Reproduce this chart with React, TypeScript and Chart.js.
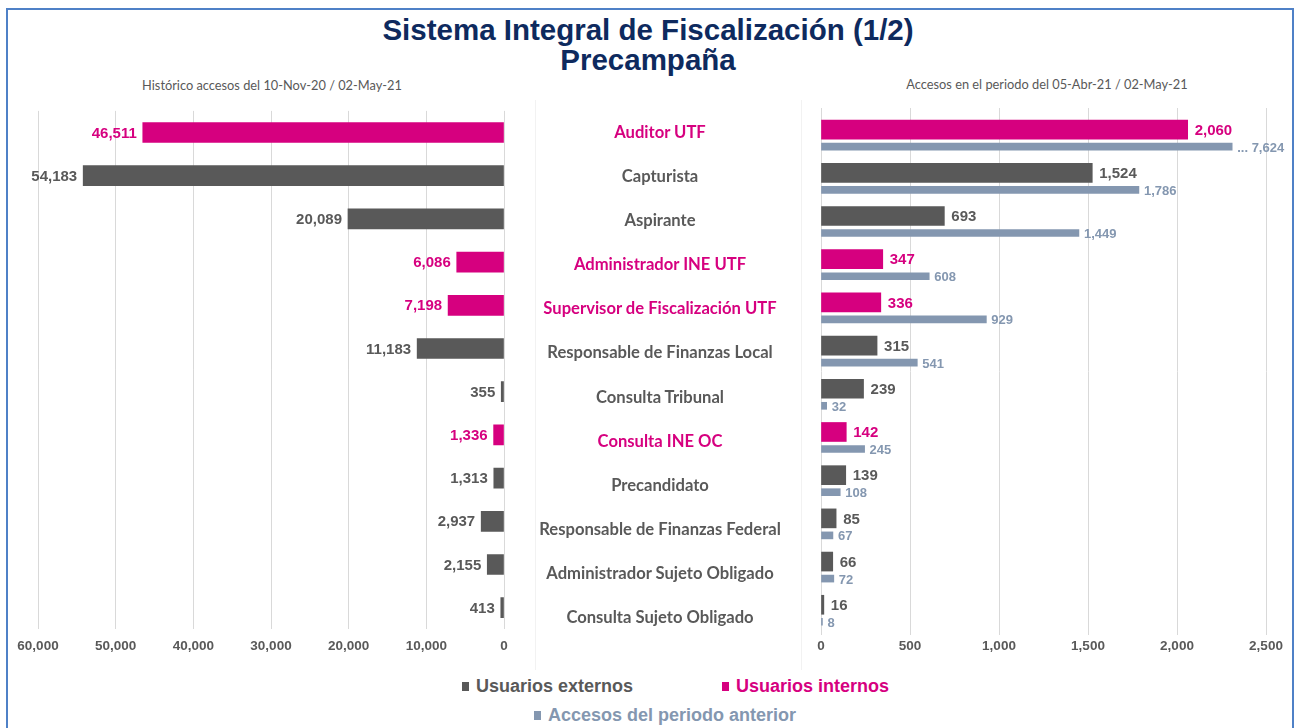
import React, { useEffect, useRef } from "react";
import { Chart, registerables } from "chart.js";
Chart.register(...registerables);

// ---------- data ----------
const categories = [
  "Auditor UTF",
  "Capturista",
  "Aspirante",
  "Administrador INE UTF",
  "Supervisor de Fiscalización UTF",
  "Responsable de Finanzas Local",
  "Consulta Tribunal",
  "Consulta INE OC",
  "Precandidato",
  "Responsable de Finanzas Federal",
  "Administrador Sujeto Obligado",
  "Consulta Sujeto Obligado",
];
const interno = [true, false, false, true, true, false, false, true, false, false, false, false];
const historico = [46511, 54183, 20089, 6086, 7198, 11183, 355, 1336, 1313, 2937, 2155, 413];
const periodo = [2060, 1524, 693, 347, 336, 315, 239, 142, 139, 85, 66, 16];
const anterior = [7624, 1786, 1449, 608, 929, 541, 32, 245, 108, 67, 72, 8];
const histMax = 60000;
const histStep = 10000;
const periodoMax = 2500;
const periodoStep = 500;
const anteriorCap = 2310; // broken bar: drawn cut at this value

const title1 = "Sistema Integral de Fiscalización (1/2)";
const title2 = "Precampaña";
const subLeft = "Histórico accesos del 10-Nov-20 / 02-May-21";
const subRight = "Accesos en el periodo del 05-Abr-21 / 02-May-21";
const legendItems = ["Usuarios externos", "Usuarios internos", "Accesos del periodo anterior"];

// ---------- styles ----------
const PINK = "#D6007F";
const GRAY = "#595959";
const BLUE = "#8497B0";
const GRID = "#D9D9D9";
const NAVY = "#0E2A5E";
const ARIAL = '"Liberation Sans", Arial, sans-serif';
const LATO = 'Lato, "Open Sans", sans-serif';

const fmt = (v: number) => Number(v).toLocaleString("en-US");

const tickFont = { family: ARIAL, weight: "bold" as const, size: 13.5 };

const leftLabels = {
  id: "leftLabels",
  afterDatasetsDraw(chart: any) {
    const ctx = chart.ctx;
    const meta = chart.getDatasetMeta(0);
    ctx.save();
    ctx.font = `bold 15px ${ARIAL}`;
    ctx.textAlign = "right";
    ctx.textBaseline = "middle";
    meta.data.forEach((el: any, i: number) => {
      const p = el.getProps(["x", "y", "base"], true);
      ctx.fillStyle = interno[i] ? PINK : GRAY;
      ctx.fillText(fmt(historico[i]), Math.min(p.x, p.base) - 6, p.y + 1);
    });
    ctx.restore();
  },
};

const rightLabels = {
  id: "rightLabels",
  afterDatasetsDraw(chart: any) {
    const ctx = chart.ctx;
    ctx.save();
    ctx.textAlign = "left";
    ctx.textBaseline = "middle";
    const m0 = chart.getDatasetMeta(0);
    ctx.font = `bold 15px ${ARIAL}`;
    m0.data.forEach((el: any, i: number) => {
      const p = el.getProps(["x", "y", "base"], true);
      ctx.fillStyle = interno[i] ? PINK : GRAY;
      ctx.fillText(fmt(periodo[i]), Math.max(p.x, p.base) + 7, p.y + 1);
    });
    const m1 = chart.getDatasetMeta(1);
    ctx.font = `bold 13px ${ARIAL}`;
    ctx.fillStyle = BLUE;
    m1.data.forEach((el: any, i: number) => {
      const p = el.getProps(["x", "y", "base"], true);
      const txt = (anterior[i] > anteriorCap ? "... " : "") + fmt(anterior[i]);
      ctx.fillText(txt, Math.max(p.x, p.base) + 5, p.y + 1.5);
    });
    ctx.restore();
  },
};

function LeftChart() {
  const ref = useRef<HTMLCanvasElement>(null);
  useEffect(() => {
    const chart = new Chart(ref.current!, {
      type: "bar",
      data: {
        labels: categories,
        datasets: [
          {
            data: historico,
            backgroundColor: interno.map((v) => (v ? PINK : GRAY)),
            barThickness: 20,
          },
        ],
      },
      options: {
        indexAxis: "y",
        animation: false,
        responsive: false,
        maintainAspectRatio: false,
        layout: { padding: { left: 38, right: 21, top: 10.9, bottom: 0 } },
        plugins: { legend: { display: false }, tooltip: { enabled: false } },
        scales: {
          x: {
            reverse: true,
            min: 0,
            max: histMax,
            ticks: {
              stepSize: histStep,
              callback: (v: any) => fmt(v),
              color: GRAY,
              font: tickFont,
              padding: 9,
              maxRotation: 0,
            },
            grid: { color: GRID, drawTicks: false },
            border: { display: false },
            afterFit: (s: any) => {
              s.height = 30.7;
            },
          },
          y: { display: false },
        },
      } as any,
      plugins: [leftLabels],
    });
    return () => chart.destroy();
  }, []);
  return (
    <canvas
      ref={ref}
      width={525}
      height={560}
      style={{ position: "absolute", left: 0, top: 100, width: 525, height: 560 }}
    />
  );
}

function RightChart() {
  const ref = useRef<HTMLCanvasElement>(null);
  useEffect(() => {
    const prevOffset = 0.394;
    const chart = new Chart(ref.current!, {
      type: "bar",
      data: {
        datasets: [
          {
            data: periodo.map((v, i) => ({ x: v, y: i })),
            backgroundColor: interno.map((v) => (v ? PINK : GRAY)),
            barThickness: 19,
            grouped: false,
          },
          {
            data: anterior.map((v, i) => ({ x: Math.min(v, anteriorCap), y: i + prevOffset })),
            backgroundColor: BLUE,
            barThickness: 7,
            grouped: false,
          },
        ],
      },
      options: {
        indexAxis: "y",
        animation: false,
        responsive: false,
        maintainAspectRatio: false,
        layout: { padding: { left: 21, right: 30, top: 8, bottom: 0 } },
        plugins: { legend: { display: false }, tooltip: { enabled: false } },
        scales: {
          x: {
            min: 0,
            max: periodoMax,
            ticks: {
              stepSize: periodoStep,
              callback: (v: any) => fmt(v),
              color: GRAY,
              font: tickFont,
              padding: 3,
              maxRotation: 0,
            },
            grid: { color: GRID, drawTicks: false },
            border: { display: false },
            afterFit: (s: any) => {
              s.height = 25;
            },
          },
          y: {
            type: "linear",
            reverse: true,
            offset: false,
            grace: 0,
            min: -0.5,
            max: 11.7,
            display: false,
          },
        },
      } as any,
      plugins: [rightLabels],
    });
    return () => chart.destroy();
  }, []);
  return (
    <canvas
      ref={ref}
      width={496}
      height={560}
      style={{ position: "absolute", left: 800, top: 100, width: 496, height: 560 }}
    />
  );
}

const ROW_H = 44.1;
const ROW0 = 132;

function Marker({ color }: { color: string }) {
  return (
    <span
      style={{
        display: "inline-block",
        width: 7,
        height: 9,
        background: color,
        marginRight: 7,
        verticalAlign: "1px",
      }}
    />
  );
}

export default function App() {
  const legendColors = [GRAY, PINK, BLUE];
  const legendPos = [
    { left: 462, top: 675 },
    { left: 722, top: 675 },
    { left: 534, top: 704 },
  ];
  return (
    <div
      style={{
        position: "absolute",
        left: 0,
        top: 0,
        width: 1296,
        height: 728,
        background: "#fff",
        overflow: "hidden",
      }}
    >
      <div
        style={{
          position: "absolute",
          left: 6,
          top: 8,
          width: 1288,
          height: 760,
          border: "2px solid #4F81C7",
          boxSizing: "border-box",
        }}
      />
      <div
        style={{
          position: "absolute",
          left: 535,
          top: 100,
          width: 267,
          height: 570,
          borderLeft: "1px solid #F2F2F2",
          borderRight: "1px solid #F2F2F2",
          boxSizing: "border-box",
        }}
      />
      <div
        style={{
          position: "absolute",
          left: 0,
          top: 15,
          width: 1296,
          textAlign: "center",
          fontFamily: ARIAL,
          fontWeight: "bold",
          fontSize: 29.5,
          lineHeight: "30px",
          color: NAVY,
        }}
      >
        <div>{title1}</div>
        <div>{title2}</div>
      </div>
      <div
        style={{
          position: "absolute",
          left: 72,
          width: 400,
          top: 77,
          textAlign: "center",
          fontFamily: LATO,
          fontSize: 12.8,
          lineHeight: "16px",
          color: GRAY,
        }}
      >
        {subLeft}
      </div>
      <div
        style={{
          position: "absolute",
          left: 847,
          width: 400,
          top: 76,
          textAlign: "center",
          fontFamily: LATO,
          fontSize: 12.8,
          lineHeight: "16px",
          color: GRAY,
        }}
      >
        {subRight}
      </div>
      <LeftChart />
      <RightChart />
      {categories.map((c, i) => (
        <div
          key={c}
          style={{
            position: "absolute",
            left: 510,
            width: 300,
            top: ROW0 - ROW_H / 2 + ROW_H * i,
            height: ROW_H,
            lineHeight: ROW_H + "px",
            textAlign: "center",
            fontFamily: LATO,
            fontWeight: "bold",
            fontSize: 16.6,
            color: interno[i] ? PINK : GRAY,
            whiteSpace: "nowrap",
          }}
        >
          {c}
        </div>
      ))}
      {legendItems.map((t, i) => (
        <div
          key={t}
          style={{
            position: "absolute",
            left: legendPos[i].left,
            top: legendPos[i].top,
            fontFamily: ARIAL,
            fontWeight: "bold",
            fontSize: 18,
            lineHeight: "22px",
            color: legendColors[i],
            whiteSpace: "nowrap",
          }}
        >
          <Marker color={legendColors[i]} />
          {t}
        </div>
      ))}
    </div>
  );
}
